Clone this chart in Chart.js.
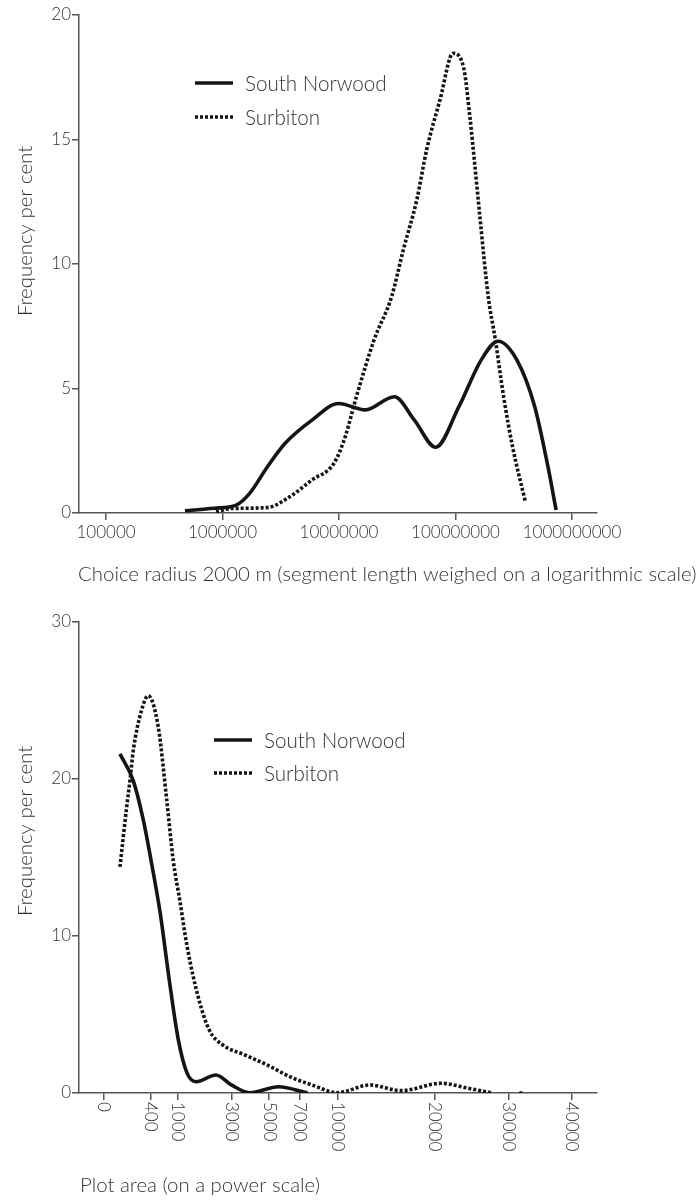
<!DOCTYPE html>
<html>
<head>
<meta charset="utf-8">
<script src="https://cdn.jsdelivr.net/npm/chart.js@4.4.1/dist/chart.umd.min.js"></script>
<style>
  html, body { margin: 0; padding: 0; background: #fff; }
  .panel { position: relative; width: 697px; height: 600px; }
</style>
</head>
<body>
<div class="panel"><canvas id="choiceChart" width="697" height="600"></canvas></div>
<div class="panel"><canvas id="areaChart" width="697" height="600"></canvas></div>
<script>
const seriesNames = ["South Norwood", "Surbiton"];

// top chart: choice radius 2000 m (log scale)
const choiceTicks = [100000, 1000000, 10000000, 100000000, 1000000000];
const norwoodChoiceX = [4.76e5, 8.43e5, 1.31e6, 1.71e6, 2.43e6, 3.45e6, 5.86e6, 9.93e6, 1.68e7, 2.99e7, 4.44e7, 6.76e7, 1.07e8, 1.66e8, 2.32e8, 3.37e8, 4.79e8, 6.22e8, 7.31e8];
const norwoodChoiceY = [0.09, 0.19, 0.32, 0.79, 1.86, 2.8, 3.73, 4.4, 4.14, 4.67, 3.73, 2.64, 4.27, 6.14, 6.9, 6.14, 4.27, 1.86, 0.12];
const surbitonChoiceX = [8.79e5, 1.2e6, 2.43e6, 3.77e6, 5.86e6, 9.06e6, 1.13e7, 1.41e7, 2.0e7, 2.83e7, 3.56e7, 4.65e7, 5.65e7, 7.36e7, 9.53e7, 1.17e8, 1.33e8, 1.47e8, 1.62e8, 1.91e8, 2.2e8, 2.59e8, 3.09e8, 3.98e8];
const surbitonChoiceY = [0.05, 0.18, 0.22, 0.65, 1.33, 2.0, 3.06, 4.67, 6.95, 8.69, 10.56, 12.57, 14.58, 16.59, 18.46, 17.92, 15.9, 13.9, 11.9, 8.69, 6.95, 4.67, 2.66, 0.45];

// bottom chart: plot area (power scale)
const areaTicks = [0, 400, 1000, 3000, 5000, 7000, 10000, 20000, 30000, 40000];
const norwoodAreaX = [48, 159, 286, 420, 586, 785, 1016, 1273, 1557, 2304, 2995, 3894, 5590, 7600];
const norwoodAreaY = [21.6, 19.9, 17.4, 14.6, 11.4, 7.2, 3.4, 1.25, 0.72, 1.15, 0.5, 0.02, 0.4, 0.0];
const surbitonAreaX = [48, 96, 126, 159, 263, 362, 544, 724, 884, 1063, 1274, 1634, 2042, 2593, 3650, 4900, 6329, 7930, 9983, 12965, 16172, 20843, 24271, 27645, 29600, 31600, 32300];
const surbitonAreaY = [14.4, 18.2, 19.9, 21.8, 24.4, 25.3, 23.3, 18.7, 14.8, 12.2, 9.3, 6.1, 4.0, 3.06, 2.42, 1.78, 1.04, 0.51, 0.02, 0.51, 0.15, 0.62, 0.3, 0.0, null, 0, 0];

const FONT = '"Lato", "Open Sans", sans-serif';
const TEXT = "#333";
const AXIS = "#555";
const INK = "#151515";

Chart.defaults.font.family = FONT;
Chart.defaults.font.weight = "300";
Chart.defaults.color = TEXT;

// square-root ("power") axis
class SqrtScale extends Chart.LinearScale {
  _t(v) { return Math.sign(v) * Math.sqrt(Math.abs(v)); }
  getPixelForValue(value) {
    const a = this._t(this.min), b = this._t(this.max);
    return this.getPixelForDecimal((this._t(value) - a) / (b - a));
  }
  getValueForPixel(pixel) {
    const a = this._t(this.min), b = this._t(this.max);
    const s = a + this.getDecimalForPixel(pixel) * (b - a);
    return Math.sign(s) * s * s;
  }
}
SqrtScale.id = "sqrt";
SqrtScale.defaults = {};
Chart.register(SqrtScale);

function toPoints(xs, ys) {
  return xs.map((x, i) => ({ x, y: ys[i] }));
}

function makeDatasets(norwood, surbiton) {
  return [
    { label: seriesNames[0], data: norwood, borderColor: INK, borderWidth: 3.6,
      pointRadius: 0, cubicInterpolationMode: "monotone", fill: false },
    { label: seriesNames[1], data: surbiton, borderColor: INK, borderWidth: 3.6,
      borderDash: [3, 2], pointRadius: 0, cubicInterpolationMode: "monotone", fill: false }
  ];
}

// legend drawn inside the plot
const inlineLegend = {
  id: "inlineLegend",
  afterDraw(chart, args, opts) {
    const ctx = chart.ctx;
    ctx.save();
    ctx.font = `300 20.6px ${FONT}`;
    ctx.fillStyle = TEXT;
    ctx.textBaseline = "middle";
    chart.data.datasets.forEach((ds, i) => {
      const y = opts.y + i * opts.gap;
      ctx.beginPath();
      ctx.setLineDash(ds.borderDash || []);
      ctx.lineWidth = ds.borderWidth;
      ctx.strokeStyle = ds.borderColor;
      ctx.moveTo(opts.x, y);
      ctx.lineTo(opts.x + 38, y);
      ctx.stroke();
      ctx.setLineDash([]);
      ctx.fillText(ds.label, opts.x + 50, y + 1);
    });
    ctx.restore();
  }
};

// axis titles (left-aligned x title, off-centre y title)
const axisTitles = {
  id: "axisTitles",
  afterDraw(chart, args, opts) {
    const ctx = chart.ctx;
    ctx.save();
    ctx.font = `300 20.4px ${FONT}`;
    ctx.fillStyle = TEXT;
    ctx.textBaseline = "middle";
    ctx.textAlign = "left";
    ctx.fillText(opts.x, opts.xPos[0], opts.xPos[1]);
    ctx.translate(opts.yPos[0], opts.yPos[1]);
    ctx.rotate(-Math.PI / 2);
    ctx.textAlign = "center";
    ctx.fillText(opts.y, 0, 0);
    ctx.restore();
  }
};

// x tick labels turned clockwise, reading downwards
const downLabels = {
  id: "downLabels",
  afterDraw(chart) {
    const ctx = chart.ctx;
    const scale = chart.scales.x;
    ctx.save();
    ctx.font = `300 17px ${FONT}`;
    ctx.fillStyle = TEXT;
    ctx.textAlign = "left";
    ctx.textBaseline = "middle";
    areaTicks.forEach(v => {
      ctx.save();
      ctx.translate(scale.getPixelForValue(v), scale.top + 9);
      ctx.rotate(Math.PI / 2);
      ctx.fillText(String(v), 0, 0);
      ctx.restore();
    });
    ctx.restore();
  }
};

const axisLine = { color: AXIS, width: 1.5 };
const tickGrid = { drawOnChartArea: false, drawTicks: true, tickLength: 7, color: AXIS, lineWidth: 1.5 };

new Chart(document.getElementById("choiceChart"), {
  type: "line",
  data: { datasets: makeDatasets(toPoints(norwoodChoiceX, norwoodChoiceY), toPoints(surbitonChoiceX, surbitonChoiceY)) },
  options: {
    responsive: false,
    animation: false,
    layout: { padding: { top: 15, right: 100, bottom: 0, left: 0 } },
    plugins: {
      legend: { display: false },
      tooltip: { enabled: false },
      inlineLegend: { x: 195, y: 83, gap: 34 },
      axisTitles: {
        x: "Choice radius 2000 m (segment length weighed on a logarithmic scale)",
        y: "Frequency per cent",
        xPos: [78, 574], yPos: [25, 231]
      }
    },
    scales: {
      x: {
        type: "logarithmic", min: 58600, max: 1.64e9,
        afterBuildTicks: axis => { axis.ticks = choiceTicks.map(v => ({ value: v })); },
        afterFit: axis => { axis.height = 87; },
        ticks: { callback: v => String(v), font: { size: 17 }, padding: 2, maxRotation: 0, autoSkip: false },
        grid: tickGrid, border: axisLine
      },
      y: {
        min: 0, max: 20,
        afterFit: axis => { axis.width = 79; },
        ticks: { stepSize: 5, font: { size: 17 }, padding: 1 },
        grid: tickGrid, border: axisLine
      }
    }
  },
  plugins: [inlineLegend, axisTitles]
});

new Chart(document.getElementById("areaChart"), {
  type: "line",
  data: { datasets: makeDatasets(toPoints(norwoodAreaX, norwoodAreaY), toPoints(surbitonAreaX, surbitonAreaY)) },
  options: {
    responsive: false,
    animation: false,
    layout: { padding: { top: 22, right: 100, bottom: 0, left: 0 } },
    plugins: {
      legend: { display: false },
      tooltip: { enabled: false },
      inlineLegend: { x: 214, y: 140, gap: 33 },
      axisTitles: {
        x: "Plot area (on a power scale)",
        y: "Frequency per cent",
        xPos: [80, 585], yPos: [25, 231]
      }
    },
    scales: {
      x: {
        type: "sqrt", min: -112, max: 44500, bounds: "data",
        afterBuildTicks: axis => { axis.ticks = areaTicks.map(v => ({ value: v })); },
        afterFit: axis => { axis.height = 107; },
        ticks: { display: false, autoSkip: false },
        grid: tickGrid, border: axisLine
      },
      y: {
        min: 0, max: 30,
        afterFit: axis => { axis.width = 79; },
        ticks: { stepSize: 10, font: { size: 17 }, padding: 1 },
        grid: tickGrid, border: axisLine
      }
    }
  },
  plugins: [inlineLegend, axisTitles, downLabels]
});
</script>
</body>
</html>
